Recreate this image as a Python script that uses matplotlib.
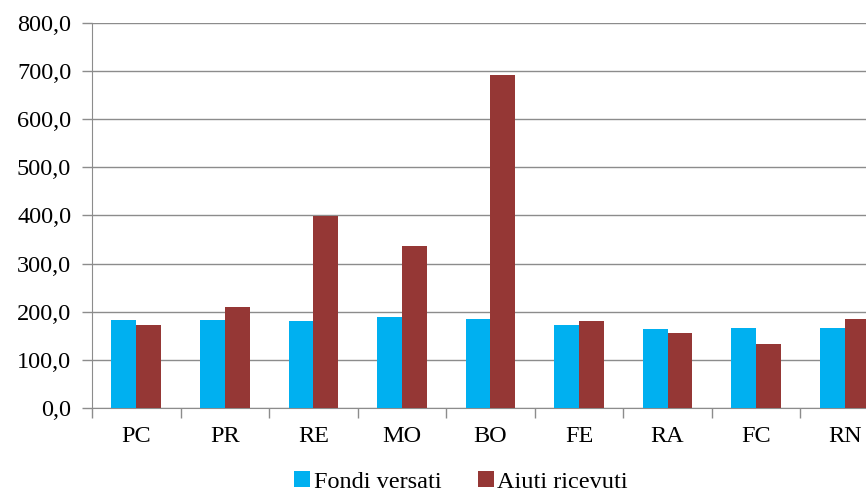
import numpy as np
import matplotlib
matplotlib.use('Agg')
from matplotlib import pyplot as plt
from matplotlib.ticker import FuncFormatter

# Fondi versati e aiuti ricevuti per provincia
province = ['PC', 'PR', 'RE', 'MO', 'BO', 'FE', 'RA', 'FC', 'RN']
fondi_versati = [182.5, 182.5, 180.0, 188.0, 185.0, 172.0, 164.0, 166.5, 166.5]
aiuti_ricevuti = [172.0, 209.0, 398.0, 337.0, 692.0, 180.0, 156.0, 132.0, 185.0]

plt.rcParams['font.family'] = ['Liberation Serif', 'DejaVu Serif']

fig = plt.figure(figsize=(8.66, 4.95), dpi=100)
ax = fig.add_axes([0.1062, 0.1764, 0.9203, 0.7766])

x = np.arange(len(province))
w = 0.28
ax.bar(x - w / 2, fondi_versati, w, color='#00B0F0', label='Fondi versati', zorder=3)
ax.bar(x + w / 2, aiuti_ricevuti, w, color='#953735', label='Aiuti ricevuti', zorder=3)

ax.set_xlim(-0.5, len(province) - 0.5)
ax.set_ylim(0, 800)
ax.set_yticks(np.arange(0, 801, 100))
ax.yaxis.set_major_formatter(FuncFormatter(lambda v, p: f'{v:.1f}'.replace('.', ',')))
ax.yaxis.grid(True, color='#8c8c8c', linewidth=1.0, zorder=0)

# etichette al centro, tacche tra i gruppi
ax.set_xticks(x)
ax.set_xticklabels(province)
ax.set_xticks(np.arange(-0.5, len(province), 1), minor=True)
ax.tick_params(axis='x', which='major', length=0, pad=13, labelsize=17.5)
ax.tick_params(axis='x', which='minor', length=7, color='#8c8c8c', width=1)
ax.tick_params(axis='y', length=7, color='#8c8c8c', width=1, pad=8, labelsize=17.5)

for s in ['top', 'right']:
    ax.spines[s].set_visible(False)
for s in ['left', 'bottom']:
    ax.spines[s].set_color('#8c8c8c')

fig.legend(loc='center', bbox_to_anchor=(461 / 866, 13 / 495), ncol=2, frameon=False,
           fontsize=17.5, handlelength=0.65, handleheight=0.65, handletextpad=0.15,
           columnspacing=1.5)

fig.savefig('out.png', dpi=100)
